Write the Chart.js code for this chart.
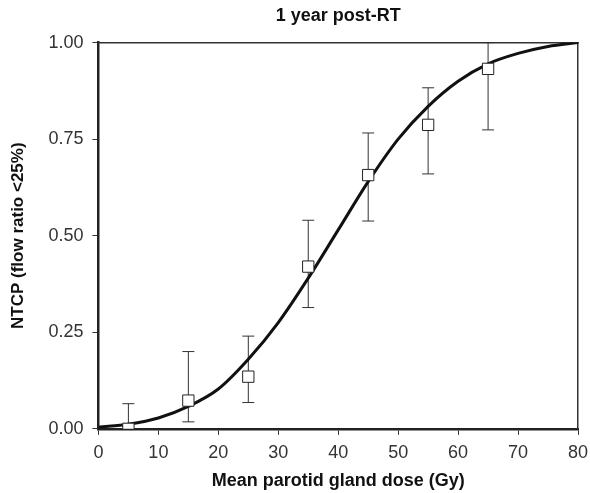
<!DOCTYPE html>
<html>
<head>
<meta charset="utf-8">
<script src="https://cdn.jsdelivr.net/npm/chart.js@4"></script>
<style>
  body { margin: 0; background: #fff; }
  #wrap { width: 590px; height: 493px; }
</style>
</head>
<body>
<div id="wrap"><canvas id="myChart" width="590" height="493"></canvas></div>
<script>
// observed points (mean dose bins) with error bars
let doses = [5, 15, 25, 35, 45, 55, 65]
let ntcp = [0.0, 0.073, 0.135, 0.42, 0.657, 0.787, 0.932]
let lower = [0.0, 0.018, 0.068, 0.314, 0.538, 0.66, 0.774]
let upper = [0.065, 0.2, 0.24, 0.54, 0.766, 0.883, 1.0]

// fitted curve
let curveDose = [0, 5, 10, 15, 20, 25, 30, 35, 40, 45, 50, 55, 60, 65, 70, 75, 80]
let curveNtcp = [0.004, 0.012, 0.028, 0.058, 0.103, 0.18, 0.275, 0.39, 0.515, 0.64, 0.75, 0.835, 0.9, 0.945, 0.972, 0.99, 1.0]

let xTicks = [0, 10, 20, 30, 40, 50, 60, 70, 80]
let yTicks = [0, 0.25, 0.5, 0.75, 1]

let tickFont = { family: 'Liberation Sans, Arial', size: 18 }

let datasets = []

// error bars as two-point lines with flat caps
doses.forEach((d, i) => {
    datasets.push({
        type: 'line',
        data: [{ x: d, y: lower[i] }, { x: d, y: upper[i] }],
        borderColor: '#333',
        borderWidth: 1,
        pointStyle: 'line',
        pointRadius: 6,
        pointBorderWidth: 1,
        pointBorderColor: '#333',
        xAxisID: 'x',
        yAxisID: 'y',
        order: 3
    })
})

datasets.push({
    type: 'line',
    data: curveDose.map((d, i) => ({ x: d, y: curveNtcp[i] })),
    borderColor: '#111',
    borderWidth: 3,
    pointRadius: 0,
    cubicInterpolationMode: 'monotone',
    xAxisID: 'x',
    yAxisID: 'y',
    order: 2
})

datasets.push({
    type: 'scatter',
    data: doses.map((d, i) => ({ x: d, y: ntcp[i] })),
    pointStyle: 'rect',
    pointRadius: 8,
    backgroundColor: '#fff',
    borderColor: '#222',
    borderWidth: 1,
    xAxisID: 'x',
    yAxisID: 'y',
    order: 1
})

let ctx = document.getElementById("myChart").getContext("2d")
let myChart = new Chart(ctx, {
    data: { datasets: datasets },
    options: {
        responsive: false,
        animation: false,
        layout: { padding: { left: 6, right: 0, top: 0, bottom: 1 } },
        plugins: {
            legend: { display: false },
            tooltip: { enabled: false },
            title: {
                display: true,
                text: '1 year post-RT',
                fullSize: false,
                color: '#111',
                font: { family: 'Liberation Sans, Arial', size: 18, weight: 'bold' },
                padding: { top: 5, bottom: 16 }
            }
        },
        scales: {
            x: {
                type: 'linear',
                position: 'bottom',
                min: 0,
                max: 80,
                afterBuildTicks: (s) => { s.ticks = xTicks.map(v => ({ value: v })) },
                afterFit: (s) => { s.paddingRight = 12 },
                ticks: { color: '#333', font: tickFont, padding: 7, maxRotation: 0 },
                grid: { drawOnChartArea: false, tickLength: 6, color: '#333' },
                border: { color: '#222', width: 2.5 },
                title: { display: true, text: 'Mean parotid gland dose (Gy)', color: '#111', font: { family: 'Liberation Sans, Arial', size: 18, weight: 'bold' }, padding: { top: 0, bottom: 0 } }
            },
            y: {
                type: 'linear',
                position: 'left',
                min: 0,
                max: 1,
                afterBuildTicks: (s) => { s.ticks = yTicks.map(v => ({ value: v })) },
                ticks: { color: '#333', font: tickFont, padding: 9, callback: (v) => v.toFixed(2) },
                grid: { drawOnChartArea: false, tickLength: 6, color: '#333' },
                border: { color: '#222', width: 2.5 },
                title: { display: true, text: 'NTCP (flow ratio <25%)', color: '#111', font: { family: 'Liberation Sans, Arial', size: 17, weight: 'bold' }, padding: { top: 2, bottom: 11 } }
            },
            x2: {
                type: 'linear',
                position: 'top',
                min: 0,
                max: 80,
                ticks: { display: false },
                grid: { display: false, drawTicks: false },
                border: { color: '#333', width: 1.5 }
            },
            y2: {
                type: 'linear',
                position: 'right',
                min: 0,
                max: 1,
                ticks: { display: false },
                grid: { display: false, drawTicks: false },
                border: { color: '#333', width: 1.5 }
            }
        }
    }
})
</script>
</body>
</html>
